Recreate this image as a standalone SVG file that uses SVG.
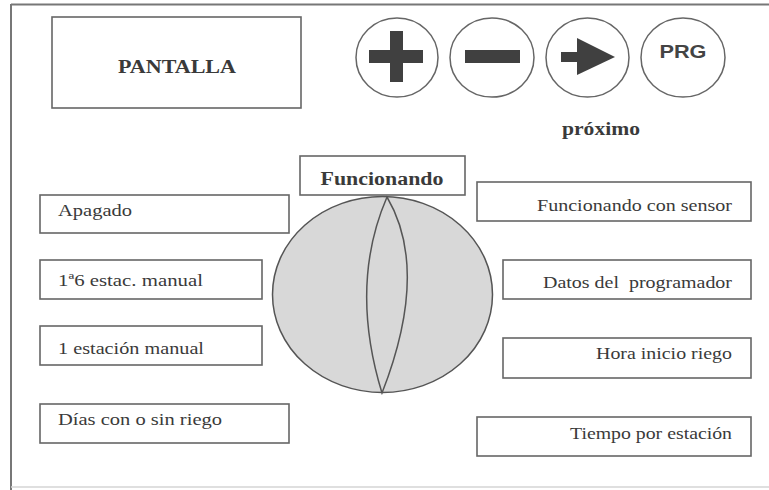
<svg xmlns="http://www.w3.org/2000/svg" width="769" height="490" viewBox="0 0 769 490">
<style>
.box{fill:#fff;stroke:#666;stroke-width:1.6}
.btn{fill:#fff;stroke:#666;stroke-width:1.5}
.ico{fill:#404040}
.t{font-family:'Liberation Serif','DejaVu Serif',serif;font-size:17px;fill:#3a3a3a}
.b{font-family:'Liberation Serif','DejaVu Serif',serif;font-size:18px;font-weight:bold;fill:#3a3a3a}
.s{font-family:'Liberation Sans','DejaVu Sans',sans-serif;font-size:19px;font-weight:bold;fill:#444}
</style>
<rect width="769" height="490" fill="#fff"/>
<g id="frame">
<line x1="11" y1="4.5" x2="769" y2="4.5" stroke="#777" stroke-width="2"/>
<line x1="11" y1="4" x2="11" y2="490" stroke="#777" stroke-width="2"/>
<line x1="11" y1="487" x2="769" y2="487" stroke="#d4d4d4" stroke-width="1.5"/>
</g>
<g id="pantalla">
<rect class="box" x="52" y="17" width="249" height="91"/>
<text class="b" x="177" y="73" text-anchor="middle" textLength="118" lengthAdjust="spacingAndGlyphs">PANTALLA</text>
</g>
<g id="btn-plus">
<ellipse class="btn" cx="397" cy="57.5" rx="41" ry="39.5"/>
<rect class="ico" x="390" y="31" width="13" height="51"/>
<rect class="ico" x="369" y="50" width="54" height="13"/>
</g>
<g id="btn-minus">
<ellipse class="btn" cx="492" cy="57.5" rx="42" ry="39.5"/>
<rect class="ico" x="465" y="50" width="55" height="13"/>
</g>
<g id="btn-next">
<ellipse class="btn" cx="587.5" cy="57.5" rx="41.5" ry="39.5"/>
<rect class="ico" x="561" y="52" width="18" height="10"/>
<polygon class="ico" points="577,38 615,57 577,75"/>
</g>
<g id="btn-prg">
<ellipse class="btn" cx="683" cy="57.5" rx="42" ry="39.5"/>
<text class="s" x="683" y="58" text-anchor="middle" textLength="47" lengthAdjust="spacingAndGlyphs">PRG</text>
</g>
<g id="proximo">
<text class="b" x="601" y="135" text-anchor="middle" textLength="78" lengthAdjust="spacingAndGlyphs">próximo</text>
</g>
<g id="dial">
<ellipse cx="382.5" cy="294.5" rx="110" ry="98" fill="#d8d8d8" stroke="#555" stroke-width="1.5"/>
<path d="M387,197 Q349,285 382,393 Q430,270 387,197 Z" fill="none" stroke="#555" stroke-width="1.5"/>
</g>
<g id="funcionando">
<rect class="box" x="300" y="156" width="165" height="39"/>
<text class="b" x="382" y="185" text-anchor="middle" textLength="123" lengthAdjust="spacingAndGlyphs">Funcionando</text>
</g>
<g id="apagado">
<rect class="box" x="40" y="195" width="249" height="38"/>
<text class="t" x="58" y="216" textLength="74" lengthAdjust="spacingAndGlyphs">Apagado</text>
</g>
<g id="estac-manual">
<rect class="box" x="40" y="260" width="222" height="39"/>
<text class="t" x="58" y="286" textLength="145" lengthAdjust="spacingAndGlyphs">1ª6 estac. manual</text>
</g>
<g id="estacion-manual">
<rect class="box" x="40" y="326" width="222" height="39"/>
<text class="t" x="58" y="354" textLength="146" lengthAdjust="spacingAndGlyphs">1 estación manual</text>
</g>
<g id="dias">
<rect class="box" x="40" y="404" width="249" height="39"/>
<text class="t" x="58" y="425" textLength="164" lengthAdjust="spacingAndGlyphs">Días con o sin riego</text>
</g>
<g id="sensor">
<rect class="box" x="477" y="182" width="274" height="39"/>
<text class="t" x="732" y="211" text-anchor="end" textLength="195" lengthAdjust="spacingAndGlyphs">Funcionando con sensor</text>
</g>
<g id="datos">
<rect class="box" x="503" y="260" width="248" height="39"/>
<text class="t" x="732" y="288" text-anchor="end" textLength="189" lengthAdjust="spacingAndGlyphs" xml:space="preserve">Datos del  programador</text>
</g>
<g id="hora">
<rect class="box" x="503" y="338" width="248" height="40"/>
<text class="t" x="732" y="359" text-anchor="end" textLength="136" lengthAdjust="spacingAndGlyphs">Hora inicio riego</text>
</g>
<g id="tiempo">
<rect class="box" x="477" y="417" width="274" height="39"/>
<text class="t" x="732" y="439" text-anchor="end" textLength="162" lengthAdjust="spacingAndGlyphs">Tiempo por estación</text>
</g>
<g id="connectors"></g>
</svg>
